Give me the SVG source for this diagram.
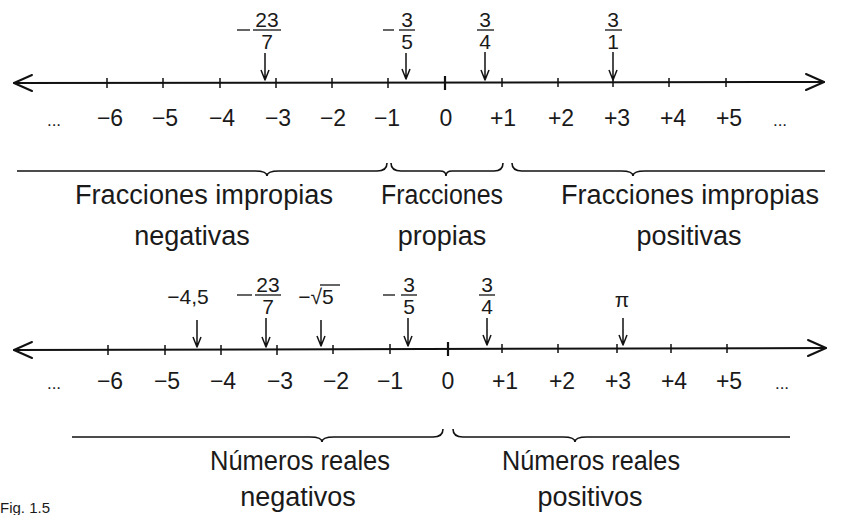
<svg xmlns="http://www.w3.org/2000/svg" width="843" height="515" viewBox="0 0 843 515">
<style>
.ln{stroke:#111;stroke-width:2;fill:none;stroke-linecap:round;stroke-linejoin:round}
.tk{stroke:#111;stroke-width:1.5}
.ar{stroke:#111;stroke-width:1.5;fill:none;stroke-linejoin:round}
.br{stroke:#111;stroke-width:1.6;fill:none}
.fb{stroke:#111;stroke-width:1.3}
text{font-family:"Liberation Sans",Arial,sans-serif;fill:#1a1a1a}
.n{font-size:23px;text-anchor:middle}
.f{font-size:21px;text-anchor:middle}
.lb{font-size:27px;text-anchor:middle}
.dt{font-size:17px;text-anchor:middle}
</style>
<rect width="843" height="515" fill="#fff"/>

<!-- Top number line -->
<g id="line-top">
<path class="ln" d="M14,83 L824,82"/>
<path class="ln" d="M32,75 L14,83 L32,91"/>
<path class="ln" d="M806,74 L824,82 L806,90"/>
<g class="tk">
<line x1="107" y1="78" x2="107" y2="88"/><line x1="163" y1="78" x2="163" y2="88"/>
<line x1="220" y1="78" x2="220" y2="88"/><line x1="276" y1="78" x2="276" y2="88"/>
<line x1="332" y1="78" x2="332" y2="88"/><line x1="388" y1="78" x2="388" y2="88"/>
<line x1="445" y1="76" x2="445" y2="90" stroke-width="2.2"/><line x1="502" y1="78" x2="502" y2="87"/>
<line x1="558" y1="78" x2="558" y2="87"/><line x1="613" y1="78" x2="613" y2="87"/>
<line x1="669" y1="78" x2="669" y2="87"/><line x1="726" y1="78" x2="726" y2="87"/>
</g>
</g>
<g id="labels-top">
<text class="dt" x="54" y="126">...</text>
<text class="n" x="110" y="126">−6</text><text class="n" x="165" y="126">−5</text>
<text class="n" x="222" y="126">−4</text><text class="n" x="278" y="126">−3</text>
<text class="n" x="333" y="126">−2</text><text class="n" x="387" y="126">−1</text>
<text class="n" x="446" y="126">0</text><text class="n" x="503" y="126">+1</text>
<text class="n" x="561" y="126">+2</text><text class="n" x="617" y="126">+3</text>
<text class="n" x="673" y="126">+4</text><text class="n" x="729" y="126">+5</text>
<text class="dt" x="780" y="126">...</text>
</g>
<g id="marks-top">
<g id="m-23-7a">
<line class="fb" x1="237" y1="30" x2="250" y2="30"/>
<text class="f" x="267" y="27">23</text><line class="fb" x1="253" y1="30" x2="281" y2="30"/><text class="f" x="267" y="49">7</text>
<path class="ar" d="M265,53 L265,80 M261,70 L265,80 L269,70"/>
</g>
<g id="m-3-5a">
<line class="fb" x1="383" y1="30" x2="394" y2="30"/>
<text class="f" x="407" y="27">3</text><line class="fb" x1="399" y1="30" x2="415" y2="30"/><text class="f" x="407" y="49">5</text>
<path class="ar" d="M406,53 L406,79 M402,69 L406,79 L410,69"/>
</g>
<g id="m-3-4a">
<text class="f" x="485" y="27">3</text><line class="fb" x1="477" y1="30" x2="494" y2="30"/><text class="f" x="485" y="49">4</text>
<path class="ar" d="M485,52 L485,80 M481,70 L485,80 L489,70"/>
</g>
<g id="m-3-1">
<text class="f" x="613" y="27">3</text><line class="fb" x1="605" y1="30" x2="622" y2="30"/><text class="f" x="613" y="49">1</text>
<path class="ar" d="M613,52 L613,80 M609,70 L613,80 L617,70"/>
</g>
</g>

<!-- Top braces -->
<g id="braces-top">
<path class="br" d="M17,171 L255,171 Q267,171 267,176 Q267,171 279,171 L377,171 Q387,171 387,163"/>
<path class="br" d="M391,163 Q391,171 401,171 L440,171 Q446,171 446,176 Q446,171 452,171 L494,171 Q503,171 503,163"/>
<path class="br" d="M512,163 Q512,171 522,171 L621,171 Q633,171 633,176 Q633,171 645,171 L825,171"/>
</g>
<g id="cat-neg-imp">
<text class="lb" x="204" y="204" textLength="258" lengthAdjust="spacingAndGlyphs">Fracciones impropias</text>
<text class="lb" x="192" y="245">negativas</text>
</g>
<g id="cat-prop">
<text class="lb" x="442" y="204" textLength="122" lengthAdjust="spacingAndGlyphs">Fracciones</text>
<text class="lb" x="442" y="245">propias</text>
</g>
<g id="cat-pos-imp">
<text class="lb" x="690" y="204" textLength="258" lengthAdjust="spacingAndGlyphs">Fracciones impropias</text>
<text class="lb" x="689" y="245">positivas</text>
</g>

<!-- Bottom number line -->
<g id="line-bottom">
<path class="ln" d="M14,350 L826,348"/>
<path class="ln" d="M32,342 L14,350 L32,358"/>
<path class="ln" d="M808,340 L826,348 L808,356"/>
<g class="tk">
<line x1="108" y1="345" x2="108" y2="355"/><line x1="165" y1="345" x2="165" y2="355"/>
<line x1="221" y1="345" x2="221" y2="355"/><line x1="277" y1="345" x2="277" y2="355"/>
<line x1="333" y1="345" x2="333" y2="354"/><line x1="390" y1="344" x2="390" y2="354"/>
<line x1="448" y1="342" x2="448" y2="356" stroke-width="2.2"/><line x1="502" y1="344" x2="502" y2="353"/>
<line x1="558" y1="344" x2="558" y2="353"/><line x1="617" y1="344" x2="617" y2="353"/>
<line x1="671" y1="344" x2="671" y2="353"/><line x1="727" y1="344" x2="727" y2="353"/>
</g>
</g>
<g id="labels-bottom">
<text class="dt" x="54" y="389">...</text>
<text class="n" x="110" y="389">−6</text><text class="n" x="167" y="389">−5</text>
<text class="n" x="223" y="389">−4</text><text class="n" x="280" y="389">−3</text>
<text class="n" x="336" y="389">−2</text><text class="n" x="390" y="389">−1</text>
<text class="n" x="448" y="389">0</text><text class="n" x="505" y="389">+1</text>
<text class="n" x="562" y="389">+2</text><text class="n" x="618" y="389">+3</text>
<text class="n" x="674" y="389">+4</text><text class="n" x="729" y="389">+5</text>
<text class="dt" x="782" y="389">...</text>
</g>
<g id="marks-bottom">
<g id="m-4-5">
<text class="f" x="188" y="304">−4,5</text>
<path class="ar" d="M197,320 L197,347 M193,337 L197,347 L201,337"/>
</g>
<g id="m-23-7b">
<line class="fb" x1="237" y1="295" x2="252" y2="295"/>
<text class="f" x="268" y="292">23</text><line class="fb" x1="255" y1="295" x2="281" y2="295"/><text class="f" x="268" y="314">7</text>
<path class="ar" d="M266,318 L266,347 M262,337 L266,347 L270,337"/>
</g>
<g id="m-sqrt5">
<text class="f" x="316" y="304">−√5</text>
<line class="fb" x1="320" y1="285" x2="340" y2="285"/>
<path class="ar" d="M321,320 L321,346 M317,336 L321,346 L325,336"/>
</g>
<g id="m-3-5b">
<line class="fb" x1="383" y1="295" x2="395" y2="295"/>
<text class="f" x="409" y="292">3</text><line class="fb" x1="401" y1="295" x2="417" y2="295"/><text class="f" x="409" y="314">5</text>
<path class="ar" d="M408,318 L408,346 M404,336 L408,346 L412,336"/>
</g>
<g id="m-3-4b">
<text class="f" x="487" y="292">3</text><line class="fb" x1="479" y1="295" x2="495" y2="295"/><text class="f" x="487" y="314">4</text>
<path class="ar" d="M487,318 L487,345 M483,335 L487,345 L491,335"/>
</g>
<g id="m-pi">
<text class="f" x="622" y="307">π</text>
<path class="ar" d="M623,318 L623,345 M619,335 L623,345 L627,335"/>
</g>
</g>

<!-- Bottom braces -->
<g id="braces-bottom">
<path class="br" d="M72,437 L310,437 Q322,437 322,442 Q322,437 334,437 L433,437 Q443,437 443,429"/>
<path class="br" d="M453,429 Q453,437 463,437 L563,437 Q575,437 575,442 Q575,437 587,437 L790,437"/>
</g>
<g id="cat-real-neg">
<text class="lb" x="300" y="470" textLength="180" lengthAdjust="spacingAndGlyphs">Números reales</text>
<text class="lb" x="298" y="506">negativos</text>
</g>
<g id="cat-real-pos">
<text class="lb" x="591" y="470" textLength="178" lengthAdjust="spacingAndGlyphs">Números reales</text>
<text class="lb" x="590" y="506">positivos</text>
</g>
<text x="0" y="513" font-size="15">Fig. 1.5</text>
</svg>
